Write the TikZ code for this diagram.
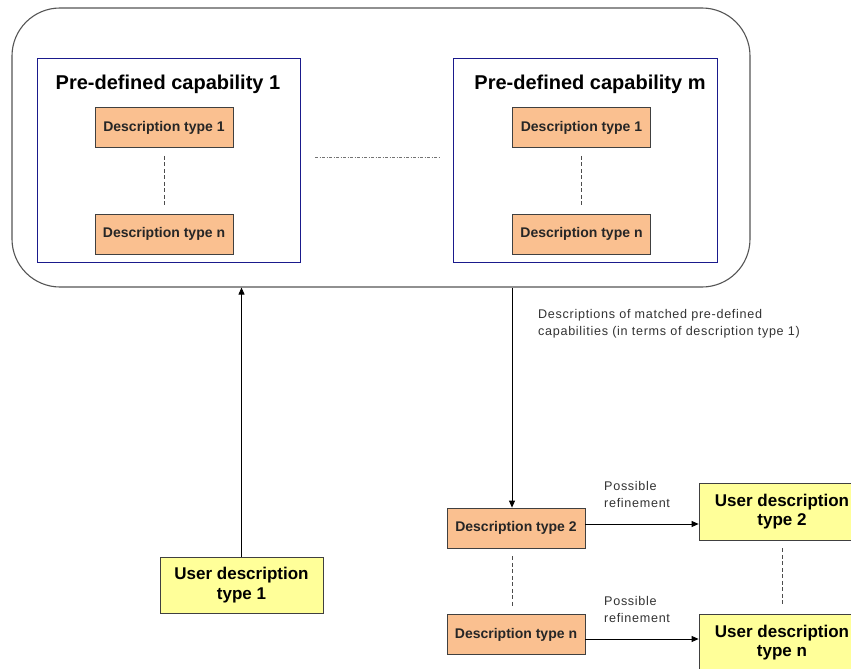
\documentclass[tikz,border=0pt]{standalone}
\usepackage{fontspec}
\setmainfont{Liberation Sans}
\usetikzlibrary{arrows.meta}
\definecolor{peach}{HTML}{FAC090}
\definecolor{paleyellow}{HTML}{FFFF99}
\definecolor{capblue}{HTML}{1A1A8C}
\definecolor{framegray}{HTML}{555555}
\tikzset{
  outerframe/.style={draw=framegray, line width=1.1pt, rounded corners=48pt, inner sep=0pt},
  capbox/.style={draw=capblue, line width=0.7pt, inner sep=0pt},
  desc/.style={draw=black!75, fill=peach, line width=0.8pt, inner sep=0pt,
    minimum width=138pt, minimum height=40pt,
    font=\fontsize{14}{15}\selectfont\bfseries, text=black!85},
  userdesc/.style={draw=black!75, fill=paleyellow, line width=0.8pt, inner sep=0pt,
    align=center, font=\fontsize{17}{19.5}\selectfont\bfseries},
  captitle/.style={font=\fontsize{20}{22}\selectfont\bfseries, inner sep=0pt},
  note/.style={font=\fontsize{12.6}{17}\selectfont\addfontfeature{LetterSpace=5.5}, text=black!80, align=left, inner sep=0pt},
  vdash/.style={draw=black!70, dashed, dash pattern=on 4pt off 2.5pt, line width=0.6pt},
  flow/.style={draw=black, line width=0.8pt, -{Triangle[width=6pt,length=7pt]}},
}
\begin{document}
\begin{tikzpicture}[x=1pt,y=-1pt]
\useasboundingbox (0,0) rectangle (851,669);
\begin{scope}
\clip (0,0) rectangle (851,669);
\fill[white] (0,0) rectangle (851,669);

% outer container
\node[outerframe, minimum width=738pt, minimum height=279pt] (outer) at (381,147.5) {};

% the two capability groups
\node[capbox, minimum width=263pt, minimum height=204pt] (capL) at (168.5,160) {};
\node[capbox, minimum width=264pt, minimum height=204pt] (capR) at (585,160) {};
\node[captitle] (titleL) at (168,84) {Pre-defined capability 1};
\node[captitle] (titleR) at (590,84) {Pre-defined capability m};

\node[desc] (d1L) at (164,127.5) {Description type 1};
\node[desc] (dnL) at (164,234) {Description type n};
\node[desc] (d1R) at (581.5,127.5) {Description type 1};
\node[desc] (dnR) at (581.5,234) {Description type n};
\draw[vdash, shorten <=8pt, shorten >=8pt] (d1L) -- (dnL);
\draw[vdash, shorten <=8pt, shorten >=8pt] (d1R) -- (dnR);

% ellipsis between the groups
\coordinate (gapA) at (315,157);
\coordinate (gapB) at (440,157);
\draw[draw=black!55, line width=0.6pt, dash pattern=on 3pt off 1.5pt on 1pt off 1.5pt] (gapA) -- (gapB);

% user side
\node[userdesc, minimum width=163pt, minimum height=56pt] (u1) at (241.5,585) {User description\\type 1};
\draw[flow] (u1.north) -- (u1.north |- outer.south);

% matched descriptions
\node[desc] (d2) at (516,528) {Description type 2};
\node[desc] (dn) at (516,634.5) {Description type n};
\coordinate (down) at (512,0);
\draw[flow] (down |- outer.south) -- (down |- d2.north);
\node[note, anchor=north west] (matched) at (538,309) {Descriptions of matched pre-defined\\capabilities (in terms of description type 1)};
\draw[vdash, shorten <=8pt, shorten >=8pt] (down |- d2.south) -- (down |- dn.north);

\node[userdesc, minimum width=166pt, minimum height=57pt] (u2) at (782,511.5) {User description\\type 2};
\node[userdesc, minimum width=166pt, minimum height=57pt] (un) at (782,642.5) {User description\\type n};
\draw[vdash, shorten <=8pt, shorten >=7pt] (u2) -- (un);

\coordinate (r2) at (0,524);
\coordinate (rn) at (0,639);
\draw[flow] (d2.east |- r2) -- (u2.west |- r2);
\draw[flow] (dn.east |- rn) -- (un.west |- rn);
\node[note, anchor=north west] (ref2) at (604,481) {Possible\\refinement};
\node[note, anchor=north west] (refn) at (604,596) {Possible\\refinement};
\end{scope}
\end{tikzpicture}
\end{document}
